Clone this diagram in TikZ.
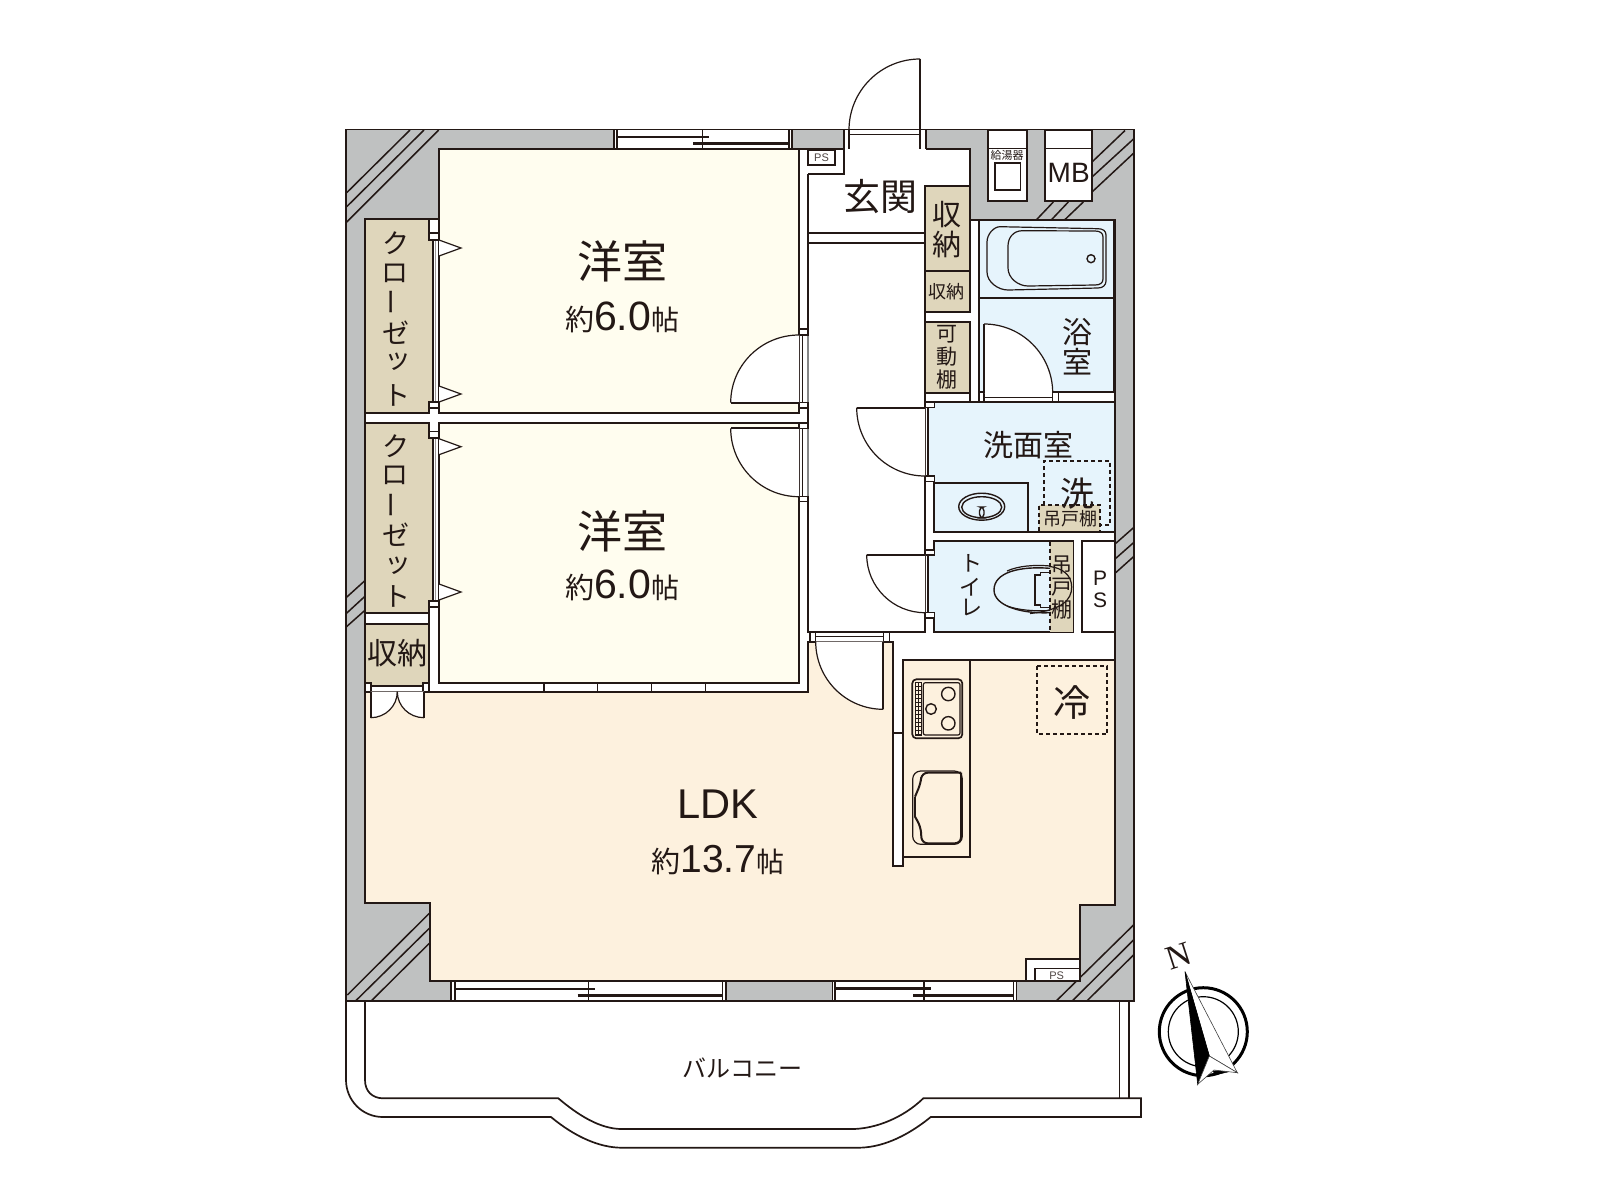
\documentclass[tikz,border=0pt]{standalone}
\usepackage{fontspec}
\setmainfont{Noto Sans CJK JP}
\newfontfamily\latf{Liberation Sans}
\newfontfamily\serf{Liberation Serif}
\usetikzlibrary{calc}
\definecolor{ink}{HTML}{231815}
\definecolor{wallc}{HTML}{BFC1C1}
\definecolor{roomc}{HTML}{FFFDEF}
\definecolor{ldkc}{HTML}{FDF1DE}
\definecolor{closc}{HTML}{DFD6BB}
\definecolor{bluec}{HTML}{E6F4FC}
\newcommand\sz[1]{\fontsize{#1}{#1}\selectfont}
\tikzset{
  ln/.style={draw=ink,line width=0.85pt,line join=miter},
  thin ln/.style={draw=ink,line width=0.6pt},
  sash/.style={draw=ink,line width=1.3pt},
  diag/.style={draw=ink,line width=0.75pt},
  dash ln/.style={draw=ink,line width=1pt,dash pattern=on 2pt off 1.5pt},
  lab/.style={inner sep=0pt,outer sep=0pt,text=ink,align=center},
}
\newcommand\swing[6]{%
  \pgfmathsetmacro\cax{#3+0.5523*(#5-#1)}\pgfmathsetmacro\cay{#4+0.5523*(#6-#2)}%
  \pgfmathsetmacro\cbx{#5+0.5523*(#3-#1)}\pgfmathsetmacro\cby{#6+0.5523*(#4-#2)}%
  \fill[white] (#1,#2) -- (#3,#4) .. controls (\cax,\cay) and (\cbx,\cby) .. (#5,#6) -- cycle;
  \draw[thin ln] (#3,#4) .. controls (\cax,\cay) and (\cbx,\cby) .. (#5,#6);
  \draw[ln] (#1,#2) -- (#3,#4);}
\newcommand\jamb[4]{\draw[ln,fill=white,line width=0.6pt] (#1,#2) rectangle (#3,#4);}
\newcommand\areatxt[2]{\sz{14.5}約\latf\sz{#1}#2\rmfamily\sz{14}帖}
\begin{document}
\begin{tikzpicture}[x=0.5pt,y=-0.5pt]
\useasboundingbox (0,0) rectangle (1600,1200);
\fill[white] (0,0) rectangle (1600,1200);
% ---------- outer wall
\draw[ln,fill=wallc] (346,129.5) rectangle (1134,1000.7);
% ---------- diagonals in wall
\draw[diag] (410,130) -- (346.7,192.7) (424,130) -- (346.7,206.7) (438.7,130) -- (346.7,222);
\draw[diag] (1125,130.5) -- (1092,162) (1133.5,139) -- (1092,177) (1133.5,153.3) -- (1092,192);
\draw[diag] (1053.3,202) -- (1036.7,219.5) (1068.3,202) -- (1051.7,219.5) (1083.3,202) -- (1065,219.5);
\draw[diag] (1133.5,527.7) -- (1115,544) (1133.5,542.7) -- (1115,559) (1133.5,556.7) -- (1115,573.3);
\draw[diag] (364.5,581) -- (346.5,597.3) (364.5,596.7) -- (346.5,613.3) (364.5,610.7) -- (346.5,626.7);
\draw[diag] (429.3,913.3) -- (347.3,995) (429.3,928.3) -- (356,1000.5) (429.3,943.3) -- (371.7,1000.5);
\draw[diag] (1133.5,925) -- (1056.7,1000.5) (1133.5,940) -- (1072.7,1000.5) (1133.5,955) -- (1087.3,1000.5);
% ---------- white interior
\draw[ln,fill=white] (365,903) -- (365,219) -- (439,219) -- (439,149) -- (970,149) -- (970,220) -- (1115,220)
   -- (1115,905) -- (1080,905) -- (1080,981) -- (430,981) -- (430,903) -- cycle;
% ---------- windows
\fill[white] (614,130) rectangle (792,149);
\draw[ln,line width=0.6pt] (614,130) -- (614,149) (617,130) -- (617,149) (789,130) -- (789,149) (792,130) -- (792,149) (702.7,130) -- (702.7,149);
\draw[sash] (617,137) -- (709,137) (693,143.5) -- (790,143.5);
\fill[white] (451,981.5) rectangle (726,1000);
\draw[ln,line width=0.6pt] (451,981) -- (451,1000.5) (455,981) -- (455,1000.5) (722.7,981) -- (722.7,1000.5) (726,981) -- (726,1000.5) (588.3,981) -- (588.3,1000.5);
\draw[sash] (455,989) -- (595,989) (577.7,995.7) -- (723,995.7);
\fill[white] (832.3,981.5) rectangle (1016.7,1000);
\draw[ln,line width=0.6pt] (832.3,981) -- (832.3,1000.5) (835,981) -- (835,1000.5) (1013.3,981) -- (1013.3,1000.5) (1016.7,981) -- (1016.7,1000.5) (924,981) -- (924,1000.5);
\draw[sash] (835,988.7) -- (930.7,988.7) (913.3,995.7) -- (1013.3,995.7);
% ---------- entrance door opening
\fill[white] (844,130) rectangle (926,149.5);
\draw[ln,line width=0.6pt] (844,129.5) -- (844,149) (849,129.5) -- (849,149) (920,130) -- (920,149) (926,129.5) -- (926,149) (849,134.5) -- (920,134.5);
\draw[thin ln] (920,59) .. controls (880.8,59) and (849,90.8) .. (849,130);
\draw[thin ln] (920,59) -- (920,130);
% ---------- service boxes
\draw[ln,fill=white] (988,130) rectangle (1026.7,201);
\draw[ln,line width=0.6pt] (988,148.3) -- (1026.7,148.3);
\draw[ln,fill=white,line width=0.7pt] (995,163) rectangle (1020.7,190);
\draw[ln,fill=white] (1045,130) rectangle (1091.7,201);
\draw[ln,line width=0.6pt] (1045,148.3) -- (1091.7,148.3);
% ---------- rooms
\draw[ln,fill=roomc] (439,149) rectangle (799,413);
\draw[ln,fill=roomc] (439,423.3) rectangle (799,682.7);
\draw[ln,fill=ldkc] (365,691.7) -- (808,691.7) -- (808,641.7) -- (893,641.7) -- (893,866) -- (902.7,866) -- (902.7,660)
   -- (1115,660) -- (1115,905) -- (1080,905) -- (1080,981) -- (430,981) -- (430,903) -- (365,903) -- cycle;
% hall
\draw[ln] (799,423.3) -- (808,423.3);
\draw[ln] (808,174) -- (844,174) -- (844,149);
\draw[ln] (808,174) -- (808,632.3) -- (925,632.3) -- (925,185.7);
\draw[ln] (808,232.7) -- (925,232.7) (808,243.3) -- (925,243.3);
\draw[thin ln,fill=white] (808,150.7) rectangle (835,165);
% sliding partition of room 2
\fill[white] (544,683.5) rectangle (798,691);
\draw[thin ln] (544,683) -- (544,691.7) (597.7,683) -- (597.7,691.7) (651.7,683) -- (651.7,691.7) (705.7,683) -- (705.7,691.7);
% ---------- closets
\draw[ln,fill=closc] (365,219) -- (429,219) -- (429,240) -- (433,240) -- (433,402) -- (429,402) -- (429,413) -- (365,413) -- cycle;
\draw[ln,fill=closc] (365,423.3) -- (429,423.3) -- (429,438) -- (433,438) -- (433,601) -- (429,601) -- (429,613) -- (365,613) -- cycle;
\draw[ln,fill=closc] (365,624) rectangle (429,686);
\draw[ln] (429,613) -- (429,691.7);
\draw[draw=ink!45,line width=0.5pt] (435.5,240) -- (435.5,402) (435.5,438) -- (435.5,601);
\jamb{429}{233}{439}{240}\jamb{429}{402}{439}{408}\jamb{429}{431.7}{439}{438}\jamb{429}{601}{439}{607}
\draw[ln,fill=white,line width=0.6pt] (439,240) -- (461,248) -- (439,256);
\draw[ln,fill=white,line width=0.6pt] (439,386) -- (461,394) -- (439,402);
\draw[ln,fill=white,line width=0.6pt] (439,438.7) -- (461,446.7) -- (439,454.7);
\draw[ln,fill=white,line width=0.6pt] (439,584) -- (461,592) -- (439,600);
% closet double door
\jamb{365}{683}{371}{691.7}\jamb{423}{683}{429}{691.7}
\swing{370.7}{691.7}{370.7}{717.7}{397.3}{691.7}
\swing{424}{691.7}{424}{717.7}{397.3}{691.7}
% ---------- door tracks on the hall wall
\draw[draw=wallc!70!black,line width=0.7pt] (808,335) -- (808,402.7) (808,428.3) -- (808,496.7);
\draw[thin ln,line width=0.5pt] (802,335) -- (802,402.7) (802,428.3) -- (802,496.7);
\jamb{799}{329}{808}{335}\jamb{799}{402.7}{808}{408}\jamb{799}{423.3}{808}{428.3}\jamb{799}{496.7}{808}{501.7}
\swing{799}{402.7}{730.7}{402.7}{799}{335}
\swing{799}{428.3}{730.7}{428.3}{799}{496.7}
% ---------- entry storage
\draw[ln,fill=closc] (925,185.7) rectangle (970,271);
\draw[ln,fill=closc] (925,271) rectangle (970,312);
\draw[ln,fill=closc] (925,321.7) rectangle (970,392.7);
% ---------- bath
\draw[ln,fill=bluec] (979,220) rectangle (1114,392.3);
\draw[ln] (979,297.7) -- (1114,297.7);
\draw[thin ln] (1000,226.7) .. controls (994,226.7) and (987,234) .. (987,242) -- (987,272) .. controls (987,282) and (998,290) .. (1008,290)
   -- (1098,288) .. controls (1103,288) and (1106,285) .. (1106,281) -- (1106,235) .. controls (1106,231) and (1103,228.7) .. (1098,228.7) -- cycle;
\draw[thin ln] (1022,230.7) .. controls (1013,231) and (1008,238) .. (1008,246) -- (1008,268) .. controls (1008,278) and (1018,286) .. (1028,286)
   -- (1095,285) .. controls (1100,285) and (1103,283) .. (1103,279) -- (1103,237) .. controls (1103,233) and (1100,231) .. (1095,231) -- cycle;
\draw[thin ln,line width=0.7pt] (1091,258.7) circle[radius=4];
\fill[white] (970.5,392.8) rectangle (1114,401.2);
\draw[ln] (925,401.7) -- (1115,401.7) (979,392.3) -- (1114,392.3) (970,392.3) -- (970,401.7);
\draw[ln] (979,220) -- (979,401.7);
\jamb{979}{392.3}{984}{401.7}\jamb{1052.7}{392.3}{1058.3}{401.7}
\draw[thin ln,line width=0.5pt] (984,397.3) -- (1052.7,397.3);
\swing{984}{393}{984}{324}{1052.7}{393}
% ---------- wash room
\draw[ln,fill=bluec] (928.3,407.5) -- (934.3,407.5) -- (934.3,402) -- (1115,402) -- (1115,531.7) -- (934.3,531.7) -- (934.3,476) -- (928.3,476) -- cycle;
\jamb{925}{402}{934.3}{407.5}\jamb{925}{476}{934.3}{481.7}
\draw[ln] (934.3,482.7) -- (1028.3,482.7) -- (1028.3,531.7);
\draw[thin ln,line width=0.7pt] (981.7,506.7) ellipse[x radius=23,y radius=13.5];
\draw[thin ln,line width=0.7pt] (981.7,507.2) ellipse[x radius=20,y radius=10.5];
\draw[thin ln,line width=0.7pt,fill=bluec,rounded corners=2pt] (979.5,507) rectangle (984,518);
\fill[closc] (1039.3,505) rectangle (1100,531.2);
\draw[dash ln] (1039.3,531) -- (1039.3,505) -- (1100,505) -- (1100,531);
\draw[dash ln] (1044.3,505) -- (1044.3,460.7) -- (1110,460.7) -- (1110,525) -- (1100,525);
\draw[ln] (934.3,531.7) -- (1115,531.7);
\swing{925}{407.7}{856.7}{407.7}{925}{476}
% ---------- toilet
\draw[ln,fill=bluec] (928.3,555) -- (934.3,555) -- (934.3,540.7) -- (1073.3,540.7) -- (1073.3,632.3) -- (934.3,632.3) -- (934.3,618) -- (928.3,618) -- cycle;
\jamb{925}{550}{934.3}{555}\jamb{925}{612.7}{934.3}{618}
\fill[closc] (1050,541.5) rectangle (1072.7,631.7);
\draw[dash ln,line width=0.7pt] (1050,541.5) -- (1050,632);
\draw[thin ln,line width=0.7pt] (1050,568.3) .. controls (1020,566) and (994,572) .. (994,590) .. controls (994,606) and (1022,614) .. (1050,612.7);
\draw[thin ln] (1050,566) .. controls (1034,564.5) and (1018,566) .. (1007,571);
\draw[thin ln] (1050,610.5) .. controls (1034,611.5) and (1018,610) .. (1007,606);
\draw[thin ln] (1050,566.5) .. controls (1062,568) and (1071.7,575) .. (1071.7,587) .. controls (1071.7,600) and (1062,610) .. (1030,613.5);
\draw[thin ln] (1050,572.7) -- (1040.7,572.7) -- (1040.7,575) -- (1035,575) -- (1035,605) -- (1040.7,605) -- (1040.7,607.3) -- (1050,607.3);
\draw[ln,fill=white] (1082.3,540.7) rectangle (1115,632.3);
\swing{925}{554.7}{866.7}{554.7}{925}{612.7}
% ---------- kitchen door
\fill[white] (808.5,632.8) rectangle (892.5,641.2);
\draw[ln] (808,632.3) -- (925,632.3);
\draw[ln,line width=0.6pt] (808,641.7) -- (893,641.7) (815.7,636.7) -- (883.3,636.7);
\jamb{810}{632.3}{815.7}{641.7}\jamb{883.3}{632.3}{889.3}{641.7}
\swing{883.3}{641.7}{883.3}{709.3}{815.7}{641.7}
% ---------- kitchen
\draw[ln] (902.7,660) -- (1115,660);
\draw[ln] (893,732.7) -- (902.7,732.7);
\draw[ln] (902.7,660) -- (902.7,857.3) -- (970,857.3) -- (970,660);
\draw[ln,rounded corners=2pt] (912.3,679.3) rectangle (962.3,738.3);
\draw[thin ln,rounded corners=1pt] (923.3,682.7) rectangle (960,735);
\draw[thin ln,line width=0.4pt] (915,682.7) rectangle (921.7,735);
\draw[thin ln,line width=0.3pt] (918.3,682.7) -- (918.3,735);
\foreach \yy in {686,690,...,734} {\draw[thin ln,line width=0.3pt] (915,\yy) -- (921.7,\yy);}
\draw[thin ln,line width=0.7pt] (948.3,694) circle[radius=6.7];
\draw[thin ln,line width=0.7pt] (948.3,723.3) circle[radius=6.7];
\draw[thin ln,line width=0.7pt] (931,709) circle[radius=5.3];
\draw[thin ln,rounded corners=4pt] (912.7,771) rectangle (962.3,844.3);
\draw[ln,line width=1pt,rounded corners=3pt] (961,772.7) -- (961,843.3) -- (921.7,843.3) -- (920.7,826.7) -- (915,816.7);
\draw[ln,line width=0.6pt] (915,816.7) -- (915,796.7);
\draw[ln,line width=1pt,rounded corners=3pt] (915,796.7) -- (920.7,783.3) -- (921.7,772.7) -- (961,772.7);
\draw[dash ln] (1037.3,666) rectangle (1107.3,734.3);
% ---------- PS bottom right
\draw[ln,fill=white] (1025.7,981) -- (1025.7,959) -- (1080,959) -- (1080,981) -- cycle;
\draw[thin ln] (1035,981) -- (1035,968.3) -- (1080,968.3);
% ---------- balcony
\draw[ln] (346,1000.7) -- (346,1080) .. controls (346,1100) and (362,1117) .. (383,1117) -- (551,1117)
  .. controls (575,1137) and (600,1147.7) .. (621.7,1147.7) -- (858.3,1147.7) .. controls (880,1147.7) and (905,1138) .. (930.7,1117)
  -- (1141,1117) -- (1141,1098.3) -- (923.3,1098.3) .. controls (903,1118) and (875,1129) .. (851.7,1129) -- (621.7,1129)
  .. controls (600,1129) and (578,1115) .. (558.3,1098.3) -- (383.3,1098.3) .. controls (372,1098.3) and (365,1091) .. (365,1080) -- (365,1000.7);
\draw[thin ln] (1119.3,1000.7) -- (1119.3,1098.3) (1129,1000.7) -- (1129,1098.3);
% ---------- compass
\draw[draw=black,line width=1.5pt] (1203.3,1031.7) circle[radius=44];
\draw[draw=black,line width=0.6pt] (1203.3,1031.7) circle[radius=35];
\filldraw[fill=white,draw=black!75,line width=0.3pt] (1185,971.7) -- (1237.3,1072.7) -- (1209.3,1056) -- cycle;
\filldraw[fill=black,draw=black,line width=0.3pt] (1185,971.7) -- (1209.3,1056) -- (1197.7,1084.3) -- cycle;
\filldraw[fill=black,draw=black,line width=0.2pt] (1213,1071) -- (1222,1070) -- (1232,1071) -- (1215,1075) -- cycle;
\filldraw[fill=white,draw=black!75,line width=0.3pt] (1197.7,1084.3) -- (1209.3,1056) -- (1237.3,1072.7) -- (1214,1070) -- cycle;
% ---------- text
\node[lab,font=\serf\sz{17},rotate=18] (tN) at (1179,956) {N};
\node[lab,font=\sz{22.5}] (t1) at (622,261) {洋室};
\node[lab] (t1a) at (622,317) {\areatxt{20.5}{6.0}};
\node[lab,font=\sz{22.5}] (t2) at (622,531) {洋室};
\node[lab] (t2a) at (622,585) {\areatxt{20.5}{6.0}};
\node[lab,font=\latf\sz{20.8}] (t3) at (718,804) {LDK};
\node[lab] (t3a) at (718,860) {\areatxt{19.5}{13.7}};
\node[lab,font=\sz{18.5}] (t4) at (880,197) {玄関};
\node[lab,font=\sz{14.5}] (t5a) at (946.7,215) {収};
\node[lab,font=\sz{14.5}] (t5b) at (946.7,244.5) {納};
\node[lab,font=\sz{9}] (t6) at (946.7,292) {収納};
\node[lab,font=\sz{10.5}] (t7a) at (947,334) {可};
\node[lab,font=\sz{10.5}] (t7b) at (947,357) {動};
\node[lab,font=\sz{10.5}] (t7c) at (947,379.5) {棚};
\node[lab,font=\sz{15}] (t8a) at (1077.5,332) {浴};
\node[lab,font=\sz{15}] (t8b) at (1077.5,361.5) {室};
\node[lab,font=\sz{5.5}] (t9) at (1007,155.7) {給湯器};
\node[lab,font=\latf\sz{14}] (t10) at (1068.7,173) {MB};
\node[lab,font=\latf\sz{5.5},text=ink!80] (t11) at (821.5,157.5) {PS};
\node[lab,font=\latf\sz{5.5},text=ink!80] (t12) at (1056.7,975.3) {PS};
\node[lab,font=\sz{15}] (t13) at (1028.3,445) {洗面室};
\node[lab,font=\sz{17}] (t14) at (1077.3,494) {洗};
\node[lab,font=\sz{9}] (t15) at (1070,518.3) {吊戸棚};
\node[lab,font=\sz{10.5}] (t16a) at (1061.7,565) {吊};
\node[lab,font=\sz{10.5}] (t16b) at (1061.7,587) {戸};
\node[lab,font=\sz{10.5}] (t16c) at (1061.7,610) {棚};
\node[lab,font=\sz{11}] (t17a) at (971.7,563) {ト};
\node[lab,font=\sz{11}] (t17b) at (970,587) {イ};
\node[lab,font=\sz{11}] (t17c) at (971.7,608) {レ};
\node[lab,font=\latf\sz{10.5}] (t18a) at (1100,578) {P};
\node[lab,font=\latf\sz{10.5}] (t18b) at (1100,600) {S};
\node[lab,font=\sz{18.5}] (t19) at (1072.3,702) {冷};
\node[lab,font=\sz{15}] (t20) at (397.3,652.7) {収納};
\node[lab,font=\sz{12}] (t21) at (742.3,1068.3) {バルコニー};
\foreach \nm/\ch/\yy/\xx/\rr in {a/ク/243/395.7/0,b/ロ/273.3/395/0,c/ー/301.7/396/90,d/ゼ/333/396/0,e/ッ/361.7/398/0,f/ト/395/396.7/0}
  {\node[lab,font=\sz{13.5},rotate=\rr] (cl1\nm) at (\xx,\yy) {\ch};}
\foreach \nm/\ch/\yy/\xx/\rr in {a/ク/446/395.7/0,b/ロ/475/395/0,c/ー/505/396/90,d/ゼ/535/396/0,e/ッ/565.7/398/0,f/ト/596.7/396.7/0}
  {\node[lab,font=\sz{13.5},rotate=\rr] (cl2\nm) at (\xx,\yy) {\ch};}
\end{tikzpicture}
\end{document}
